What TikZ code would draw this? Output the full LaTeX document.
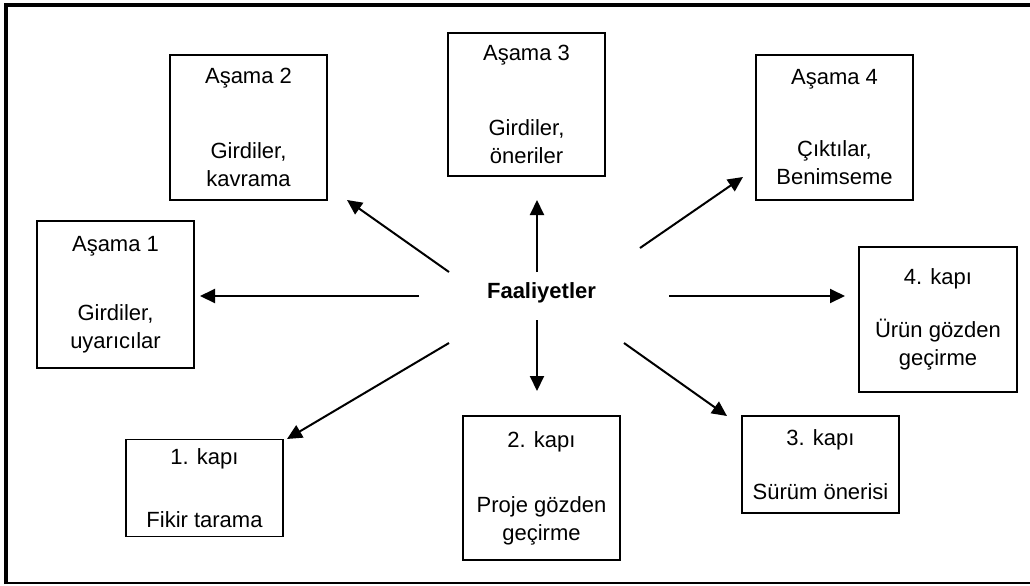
\documentclass[tikz,border=0pt]{standalone}
\usepackage{fontspec}
\setmainfont{Liberation Sans}
\usetikzlibrary{arrows.meta}
\tikzset{
  box/.style={draw, line width=0.8pt, minimum width=78.5pt, minimum height=72.5pt,
    inner sep=0pt, align=center, font=\fontsize{11}{14}\selectfont},
  lowbox/.style={box, minimum height=48.5pt},
  arr/.style={line width=1pt, -{Triangle[length=7.5pt,width=7pt]}}
}
\begin{document}
\begin{tikzpicture}[x=0.5pt, y=-0.5pt]
  \useasboundingbox (0,0) rectangle (1030,585);
  % frame
  \draw[line width=2pt] (6,584) -- (6,5) -- (1030,5);
  \draw[line width=0.8pt] (6,583) -- (1030,583);
  % stages
  \node[box, minimum height=73.5pt] (a1) at (115.5,294.5) {Aşama 1\\[20.5pt]Girdiler,\\uyarıcılar};
  \node[box] (a2) at (248.5,127.5) {Aşama 2\\[23.5pt]Girdiler,\\kavrama};
  \node[box, minimum height=71.5pt] (a3) at (526.5,104.5) {Aşama 3\\[23.5pt]Girdiler,\\öneriler};
  \node[box] (a4) at (834.5,127.5) {Aşama 4\\[22pt]Çıktılar,\\Benimseme};
  % gates
  \node[lowbox] (k1) at (204.5,488) {1. kapı\\[17.5pt]Fikir tarama};
  \node[box, minimum height=72pt] (k2) at (541.5,488) {2. kapı\\[18.5pt]Proje gözden\\geçirme};
  \node[lowbox] (k3) at (820.5,464.5) {3. kapı\\[13pt]Sürüm önerisi};
  \node[box, minimum width=79pt] (k4) at (938,319.5) {4. kapı\\[12.5pt]Ürün gözden\\geçirme};
  % centre
  \node[anchor=base, inner sep=0pt, font=\bfseries\fontsize{11}{14}\selectfont] (fa) at (541.5,298) {Faaliyetler};
  % arrow ends
  \coordinate (s1) at (419,296); \coordinate (e1) at (200,296);
  \coordinate (s2) at (449,272); \coordinate (e2) at (347,200);
  \coordinate (s3) at (537,272); \coordinate (e3) at (537,200);
  \coordinate (s4) at (640,248); \coordinate (e4) at (743,177);
  \coordinate (t1) at (449,343); \coordinate (f1) at (287,439);
  \coordinate (t2) at (537,320); \coordinate (f2) at (537,391);
  \coordinate (t3) at (624,343); \coordinate (f3) at (727,416);
  \coordinate (t4) at (669,296); \coordinate (f4) at (845,296);
  \draw[arr] (s1) -- (e1);
  \draw[arr] (s2) -- (e2);
  \draw[arr] (s3) -- (e3);
  \draw[arr] (s4) -- (e4);
  \draw[arr] (t1) -- (f1);
  \draw[arr] (t2) -- (f2);
  \draw[arr] (t3) -- (f3);
  \draw[arr] (t4) -- (f4);
\end{tikzpicture}
\end{document}
